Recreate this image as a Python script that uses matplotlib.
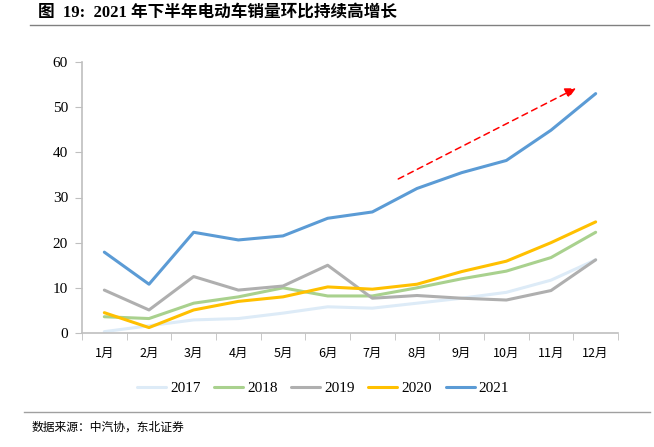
import numpy as np
import matplotlib.pyplot as plt

plt.rcParams['font.family'] = ['Liberation Serif', 'Noto Sans CJK SC']

months = ['1月', '2月', '3月', '4月', '5月', '6月', '7月', '8月', '9月', '10月', '11月', '12月']
y2017 = [0.3, 1.6, 2.9, 3.2, 4.4, 5.8, 5.5, 6.6, 7.7, 9.0, 11.7, 16.2]
y2018 = [3.6, 3.2, 6.6, 8.0, 10.0, 8.2, 8.2, 10.0, 12.0, 13.7, 16.7, 22.3]
y2019 = [9.5, 5.1, 12.5, 9.5, 10.4, 15.0, 7.7, 8.3, 7.7, 7.3, 9.4, 16.2]
y2020 = [4.5, 1.2, 5.1, 7.0, 8.0, 10.2, 9.7, 10.8, 13.6, 15.9, 20.0, 24.6]
y2021 = [17.9, 10.8, 22.3, 20.6, 21.5, 25.4, 26.8, 32.0, 35.5, 38.2, 44.9, 53.0]

series = [('2017', y2017, '#DDEBF7'),
          ('2018', y2018, '#A9D18E'),
          ('2019', y2019, '#AFAFAF'),
          ('2020', y2020, '#FFC000'),
          ('2021', y2021, '#5B9BD5')]

fig = plt.figure(figsize=(6.54, 4.47), dpi=100)
ax = fig.add_axes([82 / 654, 1 - 333 / 447, 536 / 654, 271 / 447])

x = np.arange(len(months))
for name, vals, col in series:
    ax.plot(x, vals, color=col, lw=2.2, label=name, solid_capstyle='round')

# trend arrow
ax.annotate('', xy=(10.56, 54.2), xytext=(6.58, 34.1),
            arrowprops=dict(arrowstyle='-|>', color='red', ls=(0, (4, 3)), lw=1.1,
                            mutation_scale=16, shrinkA=0, shrinkB=0))

ax.set_xlim(-0.5, 11.5)
ax.set_ylim(0, 60)
ax.set_yticks(range(0, 61, 10))
ax.set_xticks(x)
ax.set_xticklabels(months, family=['Noto Sans CJK SC'], fontsize=9)
ax.set_xticks(np.arange(-0.5, 12, 1), minor=True)
ax.tick_params(axis='x', which='major', length=0, pad=10)
ax.tick_params(axis='x', which='minor', length=5, color='#BFBFBF', direction='out')
ax.tick_params(axis='y', length=5, color='#BFBFBF', labelsize=11, pad=5)
for s in ['top', 'right']:
    ax.spines[s].set_visible(False)
for s in ['left', 'bottom']:
    ax.spines[s].set_color('#BFBFBF')
    ax.spines[s].set_linewidth(1.2)

fig.legend(loc='center', bbox_to_anchor=(323 / 654, 1 - 388 / 447), ncol=5, frameon=False,
           fontsize=11, handlelength=1.9, columnspacing=0.9, handletextpad=0.25)

fig.text(38 / 654, 1 - 13 / 447, '图  19:  2021 年下半年电动车销量环比持续高增长',
         fontsize=12, fontweight='bold', va='center', ha='left')
fig.add_artist(plt.Line2D([30 / 654, 649 / 654], [1 - 25 / 447, 1 - 25 / 447], color='#808080', lw=1))
fig.add_artist(plt.Line2D([24 / 654, 650 / 654], [1 - 412 / 447, 1 - 412 / 447], color='#A0A0A0', lw=1))
fig.text(32 / 654, 1 - 427 / 447, '数据来源：中汽协，东北证券', family=['Noto Sans CJK SC'],
         fontsize=8.5, va='center', ha='left')

fig.savefig('out.png', dpi=100)
